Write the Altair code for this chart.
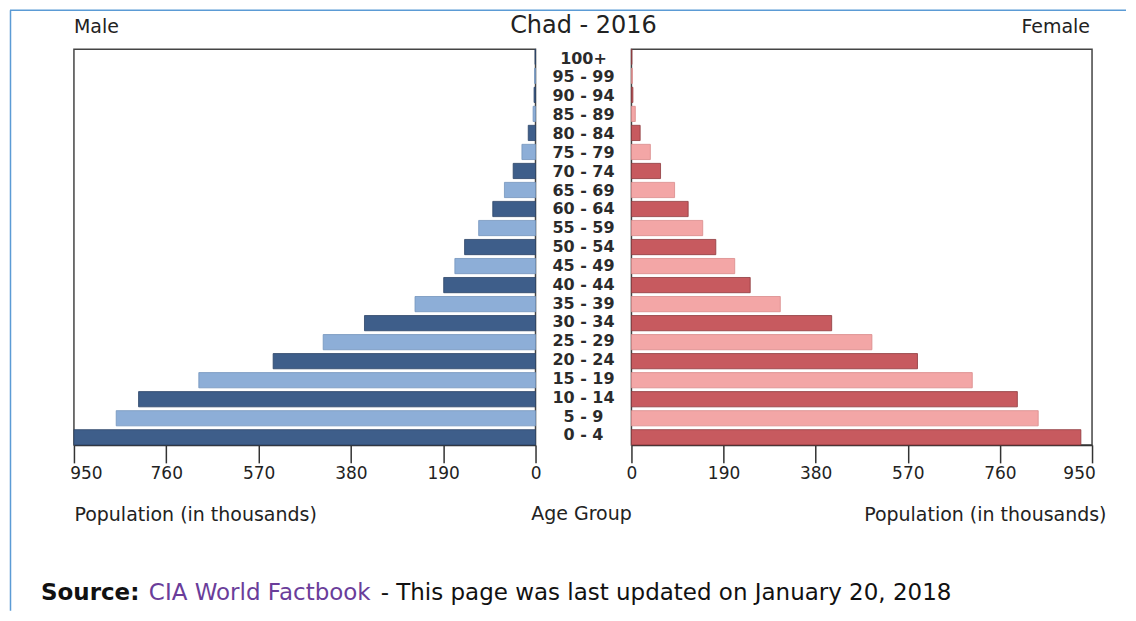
import altair as alt
import pandas as pd

# ---------------- data ----------------
age_groups = ["0 - 4", "5 - 9", "10 - 14", "15 - 19", "20 - 24", "25 - 29", "30 - 34",
              "35 - 39", "40 - 44", "45 - 49", "50 - 54", "55 - 59", "60 - 64", "65 - 69",
              "70 - 74", "75 - 79", "80 - 84", "85 - 89", "90 - 94", "95 - 99", "100+"]
male = [950, 863, 817, 693, 540, 437, 352, 248, 189, 166, 146, 117, 88, 64, 46, 28, 15, 5, 3, 2, 1]
female = [927, 839, 796, 703, 590, 496, 413, 307, 245, 213, 174, 147, 117, 89, 60, 39, 18, 8, 3, 2, 1]
tick_values = [0, 190, 380, 570, 760, 950]

chart_title = ["Chad - 2016"]
left_title = ["Male"]
right_title = ["Female"]
x_title = "Population (in thousands)"
mid_title = ["Age Group"]
source_label = ["Source:"]
source_link = ["CIA World Factbook"]
source_rest = ["- This page was last updated on January 20, 2018"]

shade = ["dark" if i % 2 == 0 else "light" for i in range(len(age_groups))]
df = pd.DataFrame({"age": age_groups, "male": male, "female": female, "shade": shade})
order = age_groups[::-1]

FONT = "DejaVu Sans"
TXT = "#222222"

y_enc = alt.Y("age:N", sort=order, axis=None,
              scale=alt.Scale(paddingInner=0.2, paddingOuter=0))


def make_axis(title_x, align, flush_off):
    return alt.Axis(
        values=tick_values, format="d", grid=False,
        tickSize=18, tickWidth=1.5, tickColor="#333333",
        domainColor="#333333", domainWidth=1.5,
        labelFont=FONT, labelFontSize=17, labelColor=TXT, labelPadding=3,
        labelFlush=False, labelOverlap=False,
        labelOffset={"expr": f"datum.value == 950 ? {flush_off} : 0"},
        title=x_title, titleFont=FONT, titleFontSize=19, titleFontWeight="normal",
        titleColor=TXT, titleX=title_x, titleY=70, titleAlign=align,
        titleBaseline="middle",
    )


def label(texts, x, y, align, size, weight="normal", color=TXT, font=FONT,
          baseline="alphabetic"):
    return alt.Chart(pd.DataFrame({"t": texts})).mark_text(
        font=font, fontSize=size, fontWeight=weight, color=color,
        align=align, baseline=baseline).encode(
        text="t:N", x=alt.value(x), y=alt.value(y))


one = pd.DataFrame({"k": [0]})

# ---------------- left (male) ----------------
bars_m = alt.Chart(df).mark_bar(strokeWidth=0.8).encode(
    x=alt.X("male:Q", scale=alt.Scale(domain=[0, 950], reverse=True, nice=False),
            axis=make_axis(0, "left", 12)),
    y=y_enc,
    color=alt.Color("shade:N", scale=alt.Scale(domain=["dark", "light"],
                                               range=["#3e5e8a", "#8daed7"]), legend=None),
    stroke=alt.Stroke("shade:N", scale=alt.Scale(domain=["dark", "light"],
                                                 range=["#2c4467", "#7394bd"]), legend=None),
)

border_top = alt.Chart(one).mark_rule(color="#5b9bd5", strokeWidth=1.5).encode(
    x=alt.value(-64), x2=alt.value(1053), y=alt.value(-39))
border_left = alt.Chart(one).mark_rule(color="#5b9bd5", strokeWidth=1.5).encode(
    x=alt.value(-63.5), y=alt.value(-39), y2=alt.value(562))

male_lbl = label(left_title, 0, -16, "left", 19)
src1 = label(source_label, -33, 544, "left", 23, "bold", "#111111", FONT, "middle")
src2 = label(source_link, 75, 544, "left", 23, "normal", "#6a3d9a", FONT, "middle")
src3 = label(source_rest, 307, 544, "left", 23, "normal", "#111111", FONT, "middle")

left = alt.layer(bars_m, border_top, border_left, male_lbl, src1, src2, src3).properties(
    width=462, height=396,
    view=alt.ViewBackground(stroke="#444444", strokeWidth=1.5))

# ---------------- middle (labels) ----------------
labels = alt.Chart(df).mark_text(font=FONT, fontSize=16, fontWeight="bold",
                                 color="#2b2b2b").encode(
    y=y_enc, text="age:N", x=alt.value(48))
age_title = label(mid_title, 46, 465, "center", 19, baseline="middle")
main_title = label(chart_title, 48, -16, "center", 24)
mid = alt.layer(labels, age_title, main_title).properties(width=96, height=396)

# ---------------- right (female) ----------------
bars_f = alt.Chart(df).mark_bar(strokeWidth=0.8).encode(
    x=alt.X("female:Q", scale=alt.Scale(domain=[0, 950], nice=False),
            axis=make_axis(475, "right", -13)),
    y=y_enc,
    color=alt.Color("shade:N", scale=alt.Scale(domain=["dark", "light"],
                                               range=["#c75a5f", "#f3a6a6"]), legend=None),
    stroke=alt.Stroke("shade:N", scale=alt.Scale(domain=["dark", "light"],
                                                 range=["#8e3a3e", "#d98a8a"]), legend=None),
)
female_lbl = label(right_title, 459, -16, "right", 19)
right = alt.layer(bars_f, female_lbl).properties(
    width=461, height=396,
    view=alt.ViewBackground(stroke="#444444", strokeWidth=1.5))

chart = alt.hconcat(left, mid, right, spacing=0, bounds="flush").resolve_scale(
    color="independent", stroke="independent"
).properties(
    padding=0, background="white"
).configure_view(strokeWidth=0)

chart.save("out.html", embed_options={"renderer": "svg", "actions": False})
